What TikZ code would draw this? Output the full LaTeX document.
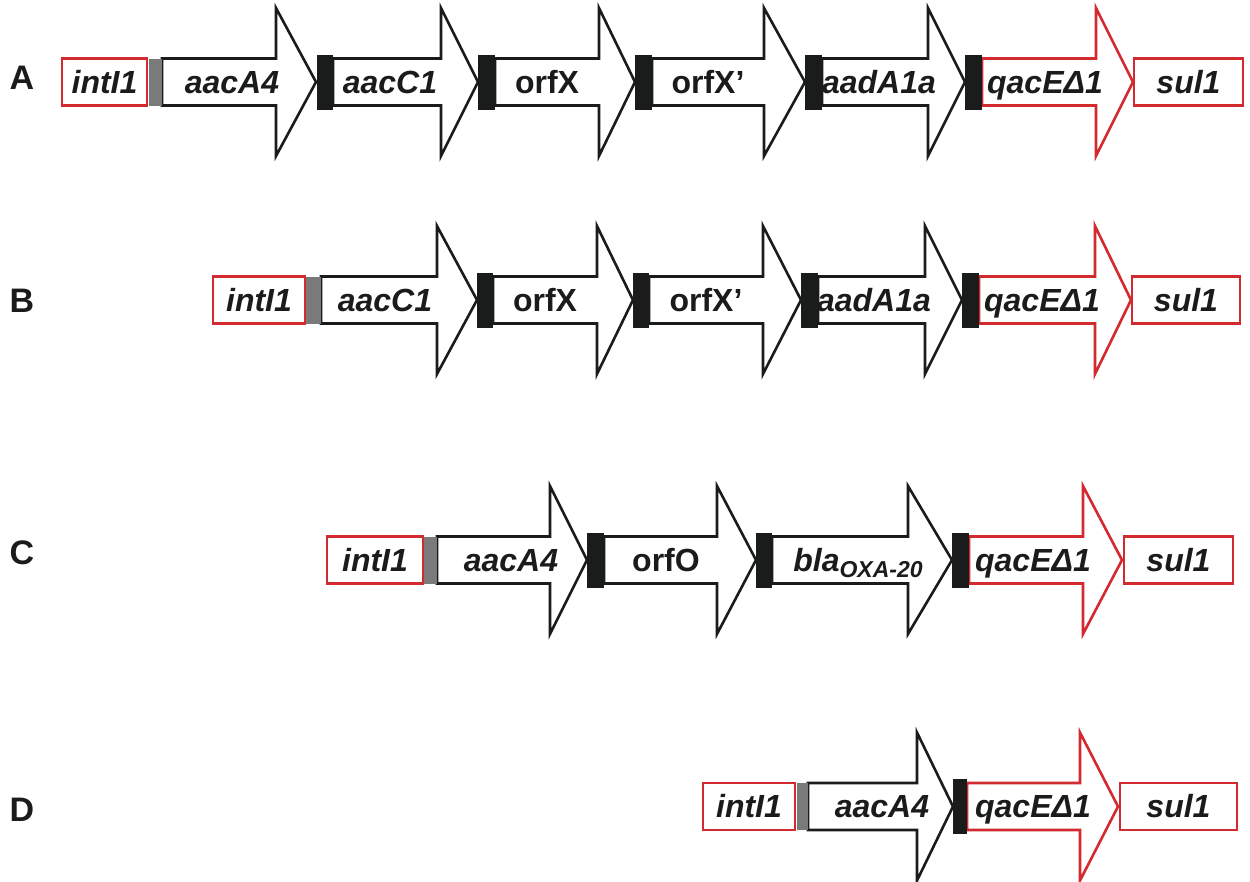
\documentclass[tikz,border=0pt]{standalone}
\usepackage{fontspec}
\setmainfont{Liberation Sans}
\definecolor{cassred}{HTML}{D22A2E}
\definecolor{ink}{HTML}{1A1C1C}
\definecolor{attgray}{HTML}{7A7A7A}
\tikzset{
  gene/.style={draw=ink, fill=white, line width=2.6pt, line join=miter},
  redgene/.style={draw=cassred, fill=white, line width=2.6pt, line join=miter},
  attC/.style={fill=ink, draw=none},
  attI/.style={fill=attgray, draw=none},
  gname/.style={font=\fontsize{32}{35}\selectfont\bfseries\itshape, text=ink, anchor=base, inner sep=0pt},
  orfname/.style={gname, font=\fontsize{32}{35}\selectfont\bfseries},
  rowlbl/.style={font=\fontsize{34}{36}\selectfont\bfseries, text=ink, anchor=base, inner sep=0pt},
}
% gene cassette arrow: style, start x, head base x, tip x, centre y
\newcommand\gcass[5]{%
  \draw[#1] ({#2},{#5-23.5}) -- ({#3},{#5-23.5}) -- ({#3},{#5-74}) -- ({#4},{#5})
    -- ({#3},{#5+74}) -- ({#3},{#5+23.5}) -- ({#2},{#5+23.5}) -- cycle;}
% rectangular gene box (intI1, sul1): left x, right x, centre y
\newcommand\gbox[3]{%
  \draw[redgene] ({#1},{#3-23.5}) rectangle ({#2},{#3+23.5});}
% recombination site bar: style, left x, right x, centre y, half height
\newcommand\gsite[5]{%
  \fill[#1] ({#2},{#4-#5}) rectangle ({#3},{#4+#5});}

\begin{document}
\begin{tikzpicture}[x=1pt,y=-1pt]
\useasboundingbox (0,0) rectangle (1250,881);

% ---------------- row A ----------------
\gcass{gene}{162}{276}{316}{82}
\gcass{gene}{333}{441}{478}{82}
\gcass{gene}{495}{599}{635}{82}
\gcass{gene}{652}{764}{805}{82}
\gcass{gene}{822}{928}{965}{82}
\gcass{redgene}{982}{1096}{1133}{82}
\gbox{62}{147}{82}
\gbox{1134}{1243}{82}
\gsite{attI}{149}{162}{82}{23.5}
\gsite{attC}{316.5}{333}{82}{27.5}
\gsite{attC}{478}{495}{82}{27.5}
\gsite{attC}{635}{652}{82}{27.5}
\gsite{attC}{805}{822}{82}{27.5}
\gsite{attC}{965}{982}{82}{27.5}
\node[rowlbl] (labA) at (22,89) {A};
\node[gname] (A-int) at (104.5,93) {intI1};
\node[gname] (A-aacA4) at (232,93) {aacA4};
\node[gname] (A-aacC1) at (390,93) {aacC1};
\node[orfname] (A-orfX) at (547,93) {orfX};
\node[orfname] (A-orfXp) at (708,93) {orfX’};
\node[gname] (A-aadA) at (879,93) {aadA1a};
\node[gname] (A-qac) at (1045,93) {qacEΔ1};
\node[gname] (A-sul) at (1188.5,93) {sul1};

% ---------------- row B ----------------
\gcass{gene}{321}{437}{477}{300}
\gcass{gene}{493}{597}{633}{300}
\gcass{gene}{649}{763}{801}{300}
\gcass{gene}{818}{925}{962}{300}
\gcass{redgene}{979}{1095}{1131}{300}
\gbox{213}{305}{300}
\gbox{1132}{1240}{300}
\gsite{attI}{306}{321}{300}{23.5}
\gsite{attC}{477}{493}{300}{27.5}
\gsite{attC}{633}{649}{300}{27.5}
\gsite{attC}{801}{818}{300}{27.5}
\gsite{attC}{962}{979}{300}{27.5}
\node[rowlbl] (labB) at (22,312) {B};
\node[gname] (B-int) at (259,311) {intI1};
\node[gname] (B-aacC1) at (385,311) {aacC1};
\node[orfname] (B-orfX) at (545,311) {orfX};
\node[orfname] (B-orfXp) at (706,311) {orfX’};
\node[gname] (B-aadA) at (874,311) {aadA1a};
\node[gname] (B-qac) at (1042,311) {qacEΔ1};
\node[gname] (B-sul) at (1186,311) {sul1};

% ---------------- row C ----------------
\gcass{gene}{437}{550}{587}{560}
\gcass{gene}{604}{717}{756}{560}
\gcass{gene}{772}{908}{952}{560}
\gcass{redgene}{969}{1083}{1122}{560}
\gbox{327}{423}{560}
\gbox{1124}{1233}{560}
\gsite{attI}{424}{437}{560}{23.5}
\gsite{attC}{587}{604}{560}{27.5}
\gsite{attC}{756}{772}{560}{27.5}
\gsite{attC}{952}{969}{560}{27.5}
\node[rowlbl] (labC) at (22,564) {C};
\node[gname] (C-int) at (375,571) {intI1};
\node[gname] (C-aacA4) at (511,571) {aacA4};
\node[orfname] (C-orfO) at (666,571) {orfO};
\node[gname] (C-bla) at (858,571) {bla\raisebox{-6pt}{\fontsize{23}{25}\selectfont OXA-20}};
\node[gname] (C-qac) at (1033,571) {qacEΔ1};
\node[gname] (C-sul) at (1178.5,571) {sul1};

% ---------------- row D ----------------
\gcass{gene}{808}{917}{953}{806.5}
\gcass{redgene}{967}{1080}{1118}{806.5}
\gbox{703}{795}{806.5}
\gbox{1120}{1237}{806.5}
\gsite{attI}{797}{808}{806.5}{23.5}
\gsite{attC}{953}{967}{806.5}{27.5}
\node[rowlbl] (labD) at (22,821) {D};
\node[gname] (D-int) at (749,817.5) {intI1};
\node[gname] (D-aacA4) at (882,817.5) {aacA4};
\node[gname] (D-qac) at (1033,817.5) {qacEΔ1};
\node[gname] (D-sul) at (1178.5,817.5) {sul1};
\end{tikzpicture}
\end{document}
